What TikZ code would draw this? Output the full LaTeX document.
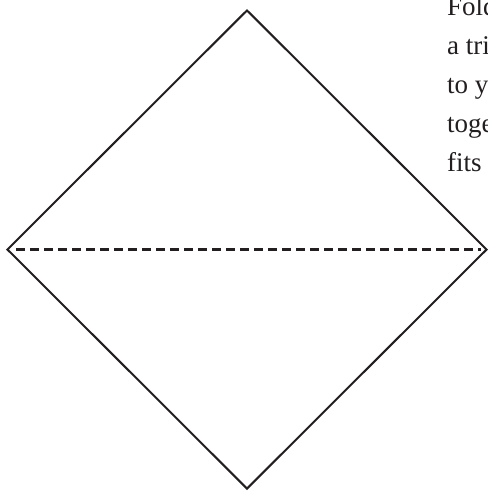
\documentclass[tikz,border=0pt]{standalone}
\usepackage{fontspec}
\setmainfont{Liberation Serif}
\usetikzlibrary{shapes.geometric}
\definecolor{ink}{HTML}{231F20}
\tikzset{
  sheet/.style={
    diamond,
    draw=ink,
    line width=2pt,
    inner sep=0pt,
    minimum width=480pt,
    minimum height=479pt
  },
  fold line/.style={
    draw=ink,
    line width=2.2pt,
    dash pattern=on 8.5pt off 5.5pt
  },
  prose/.style={
    font=\fontsize{27}{39}\selectfont,
    text=ink,
    anchor=base west,
    inner sep=0pt
  }
}
\begin{document}
\begin{tikzpicture}[x=1pt,y=-1pt]
\useasboundingbox (0,0) rectangle (488,491);
\clip (0,0) rectangle (488,491);

% folded square
\node[sheet] (paper) at (247,249.5) {};
\draw[fold line, shorten <=10pt, shorten >=7pt] (paper.west) -- (paper.east);

% instructions, cut at the page edge
\foreach \txt [count=\i] in {Fold,a tri,to y,toge,fits}
  \node[prose] (note\i) at (447,{15+39*(\i-1)}) {\txt};

\end{tikzpicture}
\end{document}
